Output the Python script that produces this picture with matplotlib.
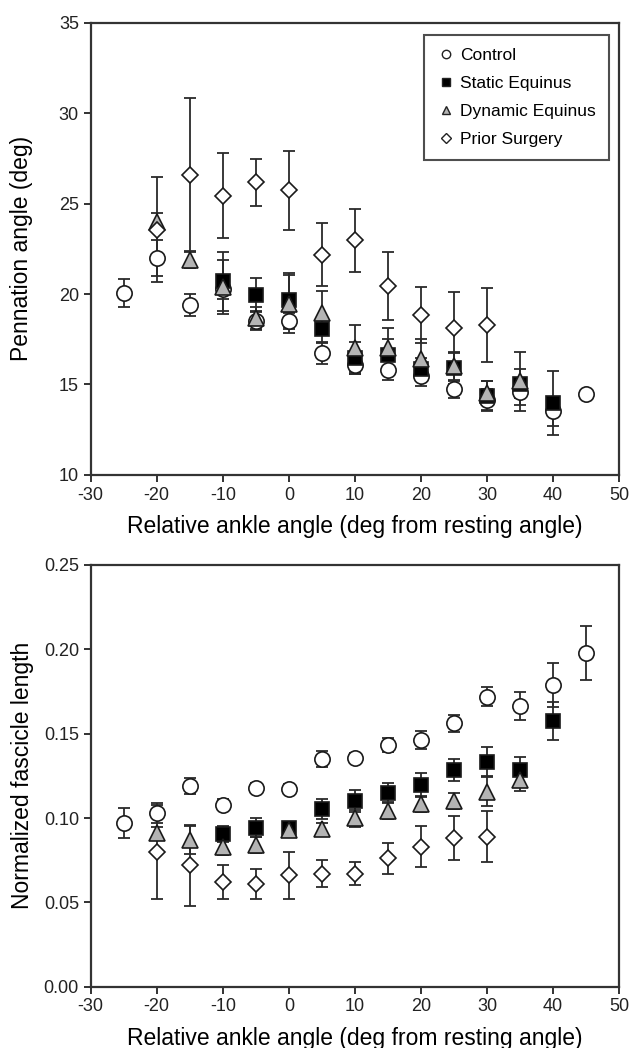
import matplotlib
matplotlib.use("Agg")
import matplotlib.pyplot as plt
from matplotlib.lines import Line2D

plt.rcParams['font.family'] = ['Liberation Sans', 'DejaVu Sans']
plt.rcParams['axes.unicode_minus'] = False

# relative ankle angle (deg)
ctrl_x = [-25, -20, -15, -10, -5, 0, 5, 10, 15, 20, 25, 30, 35, 40, 45]
stat_x = [-10, -5, 0, 5, 10, 15, 20, 25, 30, 35, 40]
dyn_x = [-20, -15, -10, -5, 0, 5, 10, 15, 20, 25, 30, 35]
prior_x = [-20, -15, -10, -5, 0, 5, 10, 15, 20, 25, 30]

# pennation angle (deg), mean and error
ctrl_pen = [20.05, 21.98, 19.4, 20.3, 18.5, 18.5, 16.73, 16.1, 15.81, 15.45, 14.75, 14.15, 14.56, 13.51, 14.49]
ctrl_pen_e = [0.78, 1.0, 0.6, 0.6, 0.5, 0.45, 0.6, 0.5, 0.55, 0.56, 0.5, 0.6, 0.7, 0.8, 0.0]
stat_pen = [20.7, 19.96, 19.68, 18.05, 16.46, 16.64, 15.85, 15.9, 14.38, 15.04, 14.0]
stat_pen_e = [1.65, 0.9, 1.5, 0.75, 0.9, 0.9, 0.6, 0.85, 0.8, 0.8, 1.77]
dyn_pen = [24.0, 21.9, 20.4, 18.67, 19.45, 18.94, 17.0, 17.0, 16.4, 16.0, 14.53, 15.17]
dyn_pen_e = [0.5, 0.45, 1.5, 0.6, 1.6, 1.2, 1.3, 1.1, 1.1, 0.8, 0.65, 1.65]
prior_pen = [23.55, 26.59, 25.43, 26.18, 25.73, 22.17, 22.96, 20.45, 18.85, 18.12, 18.3]
prior_pen_e = [2.9, 4.23, 2.35, 1.3, 2.2, 1.75, 1.75, 1.9, 1.55, 2.0, 2.05]

# normalized fascicle length, mean and error
ctrl_fl = [0.097, 0.1028, 0.119, 0.108, 0.1178, 0.117, 0.135, 0.1354, 0.1433, 0.1462, 0.1561, 0.1719, 0.1666, 0.1788, 0.1976]
ctrl_fl_e = [0.009, 0.006, 0.005, 0.003, 0.003, 0.003, 0.0045, 0.003, 0.004, 0.0055, 0.005, 0.0056, 0.0083, 0.013, 0.016]
stat_fl = [0.0905, 0.0943, 0.0939, 0.1052, 0.110, 0.1146, 0.1196, 0.1285, 0.1334, 0.1285, 0.1575]
stat_fl_e = [0.005, 0.0055, 0.004, 0.006, 0.0066, 0.006, 0.007, 0.0065, 0.0086, 0.0075, 0.0113]
dyn_fl = [0.0909, 0.087, 0.083, 0.084, 0.093, 0.0933, 0.0998, 0.1043, 0.1083, 0.1103, 0.1156, 0.1225]
dyn_fl_e = [0.004, 0.0085, 0.005, 0.005, 0.004, 0.004, 0.005, 0.005, 0.005, 0.0047, 0.0086, 0.0065]
prior_fl = [0.080, 0.072, 0.062, 0.061, 0.066, 0.067, 0.067, 0.076, 0.083, 0.088, 0.089]
prior_fl_e = [0.028, 0.024, 0.01, 0.009, 0.014, 0.008, 0.007, 0.009, 0.012, 0.013, 0.015]

names = ['Control', 'Static Equinus', 'Dynamic Equinus', 'Prior Surgery']
styles = [dict(marker='o', mfc='white', ms=11),
          dict(marker='s', mfc='black', ms=10),
          dict(marker='^', mfc='#b4b4b4', ms=11),
          dict(marker='D', mfc='white', ms=8.5)]

fig = plt.figure(figsize=(6.37, 10.48), dpi=100)
ax1 = fig.add_axes([0.1424, 0.5468, 0.8294, 0.4316])
ax2 = fig.add_axes([0.1424, 0.0585, 0.8294, 0.4024])


def draw(ax, series):
    for (x, y, e), st in zip(series, styles):
        ax.errorbar(x, y, yerr=e, fmt='none', ecolor='#2a2a2a', elinewidth=1.3,
                    capsize=4, capthick=1.3, zorder=2)
        ax.plot(x, y, ls='none', marker=st['marker'], ms=st['ms'],
                mfc=st['mfc'], mec='#1a1a1a', mew=1.2, zorder=3)


draw(ax1, [(ctrl_x, ctrl_pen, ctrl_pen_e), (stat_x, stat_pen, stat_pen_e),
           (dyn_x, dyn_pen, dyn_pen_e), (prior_x, prior_pen, prior_pen_e)])
draw(ax2, [(ctrl_x, ctrl_fl, ctrl_fl_e), (stat_x, stat_fl, stat_fl_e),
           (dyn_x, dyn_fl, dyn_fl_e), (prior_x, prior_fl, prior_fl_e)])

ax1.set_ylim(10, 35)
ax1.set_yticks([10, 15, 20, 25, 30, 35])
ax1.set_ylabel('Pennation angle (deg)', fontsize=16.5)
ax2.set_ylim(0, 0.25)
ax2.set_yticks([0, 0.05, 0.10, 0.15, 0.20, 0.25])
ax2.set_yticklabels(['0.00', '0.05', '0.10', '0.15', '0.20', '0.25'])
ax2.set_ylabel('Normalized fascicle length', fontsize=16.5)

for ax in (ax1, ax2):
    ax.set_xlim(-30, 50)
    ax.set_xticks(range(-30, 51, 10))
    ax.set_xlabel('Relative ankle angle (deg from resting angle)', fontsize=16.5, labelpad=8)
    ax.tick_params(direction='out', length=5, width=1.3, labelsize=13, colors='#222222')
    for sp in ax.spines.values():
        sp.set_linewidth(1.6)
        sp.set_color('#333333')

ax1.yaxis.set_label_coords(-0.11, 0.5)
ax2.yaxis.set_label_coords(-0.108, 0.5)

handles = [Line2D([], [], ls='none', marker=st['marker'], mfc=st['mfc'], mec='#222222',
                  mew=1.0, ms=st['ms'] * 0.55) for st in styles]
leg = ax1.legend(handles, names, loc='upper right', bbox_to_anchor=(0.99, 0.985),
                 fontsize=12.5, frameon=True, fancybox=False, edgecolor='#222222',
                 handlelength=1.0, handletextpad=0.3, labelspacing=0.75,
                 borderpad=0.75, borderaxespad=0.3)
leg.get_frame().set_linewidth(1.5)

fig.savefig('out.png', dpi=100)
